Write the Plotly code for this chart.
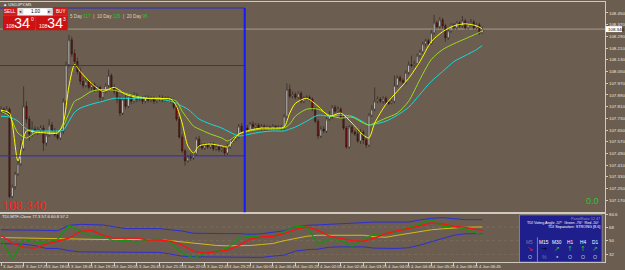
import plotly.graph_objects as go

W, H = 625, 270
FONT = "Liberation Sans"

# ---------------- data ----------------
bar_index = list(range(171))

opens = [107.779, 107.793, 107.772, 107.793, 107.196, 107.264, 107.352, 107.420, 107.522, 107.813,
         107.725, 107.623, 107.657, 107.637, 107.650, 107.664, 107.562, 107.616, 107.684, 107.644,
         107.616, 107.596, 107.644, 107.847, 108.098, 108.267, 108.172, 108.118, 108.050, 107.983,
         107.955, 107.983, 107.942, 107.962, 107.928, 107.942, 107.874, 107.915, 107.955, 108.023,
         107.942, 107.915, 107.861, 107.766, 107.861, 107.813, 107.881, 107.847, 107.888, 107.861,
         107.867, 107.847, 107.874, 107.854, 107.867, 107.847, 107.861, 107.874, 107.854, 107.867,
         107.861, 107.854, 107.806, 107.725, 107.603, 107.508, 107.440, 107.467, 107.461, 107.488,
         107.589, 107.542, 107.528, 107.549, 107.535, 107.555, 107.522, 107.535, 107.515, 107.528,
         107.494, 107.535, 107.583, 107.589, 107.603, 107.677, 107.644, 107.664, 107.650, 107.691,
         107.671, 107.684, 107.664, 107.677, 107.657, 107.671, 107.664, 107.677, 107.664, 107.671,
         107.664, 107.745, 107.928, 107.881, 107.894, 107.874, 107.901, 107.847, 107.867, 107.874,
         107.861, 107.793, 107.711, 107.610, 107.657, 107.644, 107.725, 107.752, 107.806, 107.779,
         107.793, 107.739, 107.664, 107.535, 107.671, 107.637, 107.623, 107.576, 107.637, 107.583,
         107.549, 107.752, 107.793, 107.847, 107.861, 107.847, 107.867, 107.840, 107.833, 107.847,
         107.955, 108.010, 107.989, 107.976, 108.044, 108.098, 108.091, 108.105, 108.159, 108.186,
         108.240, 108.261, 108.240, 108.315, 108.383, 108.356, 108.403, 108.362, 108.281, 108.328,
         108.369, 108.349, 108.383, 108.362, 108.396, 108.349, 108.376, 108.389, 108.349, 108.369,
         108.315]

highs = [107.813, 107.806, 107.813, 107.806, 107.278, 107.366, 107.440, 107.576, 107.949, 107.847,
         107.745, 107.711, 107.677, 107.671, 107.684, 107.684, 107.644, 107.725, 107.705, 107.664,
         107.644, 107.657, 107.867, 108.118, 108.301, 108.288, 108.200, 108.145, 108.078, 108.010,
         108.003, 107.996, 107.976, 107.976, 107.955, 107.955, 107.928, 107.969, 108.064, 108.037,
         107.962, 107.928, 107.881, 107.874, 107.894, 107.901, 107.901, 107.908, 107.901, 107.881,
         107.881, 107.888, 107.888, 107.881, 107.881, 107.874, 107.888, 107.888, 107.881, 107.881,
         107.874, 107.867, 107.820, 107.739, 107.623, 107.522, 107.481, 107.488, 107.501, 107.603,
         107.610, 107.562, 107.562, 107.562, 107.569, 107.569, 107.549, 107.549, 107.542, 107.542,
         107.555, 107.596, 107.603, 107.623, 107.691, 107.698, 107.684, 107.684, 107.705, 107.711,
         107.698, 107.698, 107.691, 107.691, 107.684, 107.684, 107.691, 107.684, 107.684, 107.684,
         107.759, 107.969, 107.962, 107.915, 107.908, 107.915, 107.915, 107.881, 107.888, 107.888,
         107.874, 107.806, 107.725, 107.677, 107.677, 107.739, 107.779, 107.820, 107.820, 107.813,
         107.806, 107.759, 107.677, 107.684, 107.684, 107.650, 107.650, 107.657, 107.650, 107.596,
         107.766, 107.820, 107.942, 107.881, 107.874, 107.881, 107.881, 107.854, 107.861, 108.023,
         108.023, 108.023, 108.003, 108.057, 108.118, 108.159, 108.125, 108.172, 108.200, 108.254,
         108.274, 108.274, 108.335, 108.437, 108.396, 108.423, 108.417, 108.376, 108.342, 108.383,
         108.383, 108.396, 108.396, 108.430, 108.410, 108.389, 108.410, 108.403, 108.383, 108.383,
         108.356]

lows = [107.766, 107.759, 107.759, 107.183, 107.183, 107.244, 107.339, 107.406, 107.508, 107.698,
        107.576, 107.603, 107.616, 107.616, 107.637, 107.508, 107.542, 107.603, 107.630, 107.603,
        107.583, 107.583, 107.623, 107.833, 108.078, 108.152, 108.098, 108.030, 107.962, 107.935,
        107.942, 107.928, 107.922, 107.908, 107.915, 107.847, 107.854, 107.901, 107.942, 107.928,
        107.894, 107.833, 107.745, 107.752, 107.793, 107.800, 107.827, 107.833, 107.840, 107.847,
        107.827, 107.833, 107.840, 107.840, 107.827, 107.833, 107.847, 107.840, 107.840, 107.847,
        107.833, 107.793, 107.711, 107.589, 107.494, 107.406, 107.427, 107.440, 107.447, 107.474,
        107.528, 107.515, 107.515, 107.522, 107.522, 107.508, 107.508, 107.501, 107.501, 107.474,
        107.481, 107.522, 107.562, 107.576, 107.589, 107.630, 107.630, 107.637, 107.637, 107.657,
        107.657, 107.650, 107.644, 107.644, 107.644, 107.650, 107.650, 107.650, 107.657, 107.650,
        107.650, 107.732, 107.867, 107.867, 107.861, 107.861, 107.833, 107.833, 107.854, 107.847,
        107.779, 107.698, 107.589, 107.596, 107.630, 107.630, 107.711, 107.725, 107.766, 107.766,
        107.725, 107.650, 107.522, 107.522, 107.623, 107.610, 107.562, 107.555, 107.555, 107.528,
        107.535, 107.739, 107.779, 107.833, 107.833, 107.827, 107.827, 107.820, 107.827, 107.833,
        107.942, 107.976, 107.962, 107.962, 108.030, 108.078, 108.078, 108.091, 108.145, 108.172,
        108.220, 108.227, 108.233, 108.301, 108.342, 108.342, 108.342, 108.254, 108.267, 108.315,
        108.335, 108.335, 108.349, 108.349, 108.335, 108.335, 108.362, 108.335, 108.335, 108.301,
        108.308]

closes = [107.793, 107.772, 107.793, 107.196, 107.264, 107.352, 107.420, 107.522, 107.813, 107.725,
          107.623, 107.657, 107.637, 107.650, 107.664, 107.562, 107.616, 107.684, 107.644, 107.616,
          107.596, 107.644, 107.847, 108.098, 108.267, 108.172, 108.118, 108.050, 107.983, 107.955,
          107.983, 107.942, 107.962, 107.928, 107.942, 107.874, 107.915, 107.955, 108.023, 107.942,
          107.915, 107.861, 107.766, 107.861, 107.813, 107.881, 107.847, 107.888, 107.861, 107.867,
          107.847, 107.874, 107.854, 107.867, 107.847, 107.861, 107.874, 107.854, 107.867, 107.861,
          107.854, 107.806, 107.725, 107.603, 107.508, 107.440, 107.467, 107.461, 107.488, 107.589,
          107.542, 107.528, 107.549, 107.535, 107.555, 107.522, 107.535, 107.515, 107.528, 107.494,
          107.535, 107.583, 107.589, 107.603, 107.677, 107.644, 107.664, 107.650, 107.691, 107.671,
          107.684, 107.664, 107.677, 107.657, 107.671, 107.664, 107.677, 107.664, 107.671, 107.664,
          107.745, 107.928, 107.881, 107.894, 107.874, 107.901, 107.847, 107.867, 107.874, 107.861,
          107.793, 107.711, 107.610, 107.657, 107.644, 107.725, 107.752, 107.806, 107.779, 107.793,
          107.739, 107.664, 107.535, 107.671, 107.637, 107.623, 107.576, 107.637, 107.583, 107.549,
          107.752, 107.793, 107.847, 107.861, 107.847, 107.867, 107.840, 107.833, 107.847, 107.955,
          108.010, 107.989, 107.976, 108.044, 108.098, 108.091, 108.105, 108.159, 108.186, 108.240,
          108.261, 108.240, 108.315, 108.383, 108.356, 108.403, 108.362, 108.281, 108.328, 108.369,
          108.349, 108.383, 108.362, 108.396, 108.349, 108.376, 108.389, 108.349, 108.369, 108.315,
          108.340]

ma_index = [0, 3, 6, 9, 12, 16, 20, 22, 24, 26, 28, 32, 36, 40, 44, 48, 52, 56, 60, 62,
            64, 66, 68, 70, 74, 78, 80, 84, 88, 92, 96, 100, 102, 104, 108, 112, 116, 120, 124, 128,
            130, 132, 136, 140, 144, 148, 152, 156, 160, 164, 168, 170]
ma_fast = [107.786, 107.766, 107.440, 107.644, 107.637, 107.630, 107.630, 107.698, 107.949, 108.098,
           108.050, 107.969, 107.915, 107.942, 107.894, 107.874, 107.867, 107.867, 107.861, 107.813,
           107.698, 107.542, 107.494, 107.542, 107.555, 107.542, 107.535, 107.623, 107.650, 107.664,
           107.664, 107.671, 107.766, 107.833, 107.867, 107.813, 107.745, 107.766, 107.698, 107.616,
           107.596, 107.698, 107.827, 107.915, 108.003, 108.118, 108.254, 108.322, 108.362, 108.376,
           108.362, 108.342]
ma_mid = [107.779, 107.745, 107.630, 107.596, 107.630, 107.637, 107.637, 107.677, 107.766, 107.847,
          107.867, 107.915, 107.928, 107.922, 107.901, 107.881, 107.867, 107.867, 107.861, 107.847,
          107.779, 107.725, 107.677, 107.657, 107.623, 107.596, 107.576, 107.623, 107.644, 107.657,
          107.657, 107.664, 107.691, 107.745, 107.793, 107.793, 107.752, 107.732, 107.739, 107.698,
          107.684, 107.698, 107.732, 107.766, 107.847, 107.996, 108.132, 108.200, 108.240, 108.274,
          108.308, 108.328]
ma_slow = [107.745, 107.739, 107.711, 107.657, 107.644, 107.644, 107.644, 107.650, 107.711, 107.772,
           107.800, 107.827, 107.847, 107.867, 107.867, 107.867, 107.867, 107.861, 107.847, 107.833,
           107.813, 107.793, 107.759, 107.725, 107.691, 107.664, 107.644, 107.610, 107.623, 107.637,
           107.644, 107.644, 107.657, 107.671, 107.711, 107.752, 107.745, 107.752, 107.745, 107.705,
           107.684, 107.691, 107.711, 107.752, 107.806, 107.894, 107.983, 108.050, 108.118, 108.159,
           108.200, 108.227]

tdi_index = [0, 4, 8, 12, 16, 20, 24, 28, 32, 36, 40, 44, 48, 52, 56, 60, 64, 68, 72, 76, 80, 84,
             88, 92, 96, 100, 104, 108, 112, 116, 120, 124, 128, 132, 136, 140, 144, 148, 152, 156,
             160, 164, 168, 170]
tdi_green = [52.0, 25.8, 52.0, 48.0, 48.0, 52.0, 70.3, 62.4, 55.9, 55.9,
             49.3, 50.7, 48.0, 50.7, 52.0, 48.0, 33.6, 27.1, 33.6, 36.3,
             40.2, 53.3, 56.5, 54.6, 55.2, 62.4, 69.0, 69.0, 45.4, 52.0,
             50.7, 42.8, 52.0, 58.5, 59.8, 62.4, 67.7, 71.6, 78.1, 69.0,
             69.0, 65.1, 59.8, 58.5]
tdi_red = [57.2, 46.7, 41.5, 40.2, 45.4, 49.3, 53.3, 62.4, 63.7, 57.2,
           53.3, 53.3, 53.3, 50.7, 50.7, 49.3, 44.1, 36.3, 33.6, 35.6,
           37.6, 43.5, 52.0, 55.2, 55.9, 59.2, 65.1, 68.3, 63.7, 55.9,
           52.6, 50.0, 49.3, 53.3, 59.8, 63.1, 65.7, 69.6, 73.6, 72.3,
           69.0, 67.7, 65.1, 63.7]
tdi_yellow = [54.2, 53.9, 53.5, 53.0, 52.6, 52.1, 51.7, 51.6, 51.6, 51.6,
              51.6, 51.6, 51.6, 51.6, 51.6, 50.0, 48.3, 46.3, 45.0, 43.8,
              43.2, 43.2, 43.7, 45.0, 46.3, 50.0, 53.3, 55.9, 57.2, 57.2,
              57.2, 57.2, 57.2, 55.2, 54.6, 57.2, 59.8, 62.4, 64.4, 65.7,
              67.0, 67.7, 68.1, 68.1]
tdi_upper = [64.4, 64.4, 64.1, 64.0, 63.7, 63.1, 70.3, 71.6, 71.2, 70.8,
             68.3, 66.0, 66.0, 66.0, 66.0, 64.4, 62.8, 59.8, 59.4, 59.4,
             59.4, 59.4, 58.5, 59.2, 61.1, 63.1, 68.3, 70.3, 70.9, 71.6,
             72.9, 73.6, 74.2, 74.6, 74.6, 74.6, 74.6, 77.5, 79.5, 80.4,
             78.8, 77.8, 77.8, 77.8]
tdi_lower = [46.3, 46.1, 45.4, 43.5, 39.8, 39.8, 36.9, 35.3, 35.3, 35.3,
             34.9, 34.6, 34.6, 34.6, 34.6, 32.3, 29.7, 28.8, 28.8, 28.8,
             28.4, 28.0, 28.0, 28.0, 29.7, 31.0, 36.3, 38.2, 38.9, 41.5,
             41.9, 41.9, 41.9, 40.2, 39.8, 39.8, 40.8, 44.1, 48.7, 53.3,
             57.2, 59.2, 59.4, 59.4]
tdi_levels = [32, 50, 68]

price_ticks = [108.450, 108.370, 108.290, 108.210, 108.130, 108.050, 107.970, 107.890, 107.810,
               107.730, 107.650, 107.570, 107.490, 107.410, 107.330, 107.250, 107.170]
tdi_ticks = [84.6, 68, 50, 32]
tdi_tick_text = ["84.6", "68", "50", "32"]

time_label_index = [0, 8, 16, 24, 32, 40, 48, 56, 64, 72, 80, 88, 96, 104, 112, 120, 128, 136,
                    144, 152, 160, 168]
time_labels = ["3 Jan 2019", "3 Jan 17:25", "3 Jan 18:05", "3 Jan 18:45", "3 Jan 19:25",
               "3 Jan 20:05", "3 Jan 20:45", "3 Jan 21:25", "3 Jan 22:05", "3 Jan 22:45",
               "3 Jan 23:25", "4 Jan 00:05", "4 Jan 00:45", "4 Jan 01:25", "4 Jan 02:05",
               "4 Jan 02:45", "4 Jan 03:25", "4 Jan 04:05", "4 Jan 04:45", "4 Jan 05:25",
               "4 Jan 06:05", "4 Jan 06:45"]

bid_price = 108.340
object_levels = [108.484, 108.091, 107.474]   # horizontal drawn objects
object_bar = 86.1                              # vertical drawn object (bar position)
daily_ranges = [("5 Day", "117"), ("10 Day", "126"), ("20 Day", "96")]
tfs = ["M5", "M15", "M30", "H1", "H4", "D1"]
tf_arrows = ["\u2198", "\u2192", "\u2197", "\u2191", "\u2191", "\u2197"]
tf_arrow_colors = ["#ff1a1a", "#050505", "#22c41e", "#22c41e", "#22c41e", "#22c41e"]
tf_marks = ["O", "%", "\u25cf", "O", "O", "O"]

# ---------------- style ----------------
BG = "#6b5d4f"
BORDER = "#cfc9c0"
AX_TXT = "#ece7df"
X_RANGE = [-0.352, 213.4]
Y_RANGE = [107.0876, 108.525]
Y2_RANGE = [21.86, 84.69]
XD = [0, 608 / W]


def py(y):
    return 1 - y / H


fig = go.Figure()

fig.add_trace(go.Candlestick(
    x=bar_index, open=opens, high=highs, low=lows, close=closes,
    increasing=dict(line=dict(color="#1a1512", width=0.5), fillcolor="#ffffff"),
    decreasing=dict(line=dict(color="#1a1512", width=0.5), fillcolor="#820d0d"),
    whiskerwidth=0, hoverinfo="skip", xaxis="x", yaxis="y"))

for vals, col in [(ma_slow, "#14dcdc"), (ma_mid, "#9ade1e"), (ma_fast, "#ffff00")]:
    fig.add_trace(go.Scatter(x=ma_index, y=vals, mode="lines",
                             line=dict(color=col, width=1.0, shape="spline", smoothing=0.7),
                             hoverinfo="skip", xaxis="x", yaxis="y"))

for vals, col, w in [(tdi_upper, "#2f2fd2", 1.0), (tdi_lower, "#2f2fd2", 1.0),
                     (tdi_yellow, "#d2bc1c", 1.0), (tdi_green, "#0c9a0c", 1.2),
                     (tdi_red, "#ff1010", 1.3)]:
    fig.add_trace(go.Scatter(x=tdi_index, y=vals, mode="lines",
                             line=dict(color=col, width=w),
                             hoverinfo="skip", xaxis="x2", yaxis="y2"))

shapes = []
# bid line
shapes.append(dict(type="line", xref="x", yref="y", x0=X_RANGE[0], x1=X_RANGE[1],
                   y0=bid_price, y1=bid_price, line=dict(color="#a59c90", width=1), layer="below"))
# drawn objects
for lv in object_levels:
    shapes.append(dict(type="line", xref="x", yref="y", x0=X_RANGE[0], x1=object_bar,
                       y0=lv, y1=lv, line=dict(color="#2c2cc4", width=1), layer="above"))
shapes.append(dict(type="line", xref="x", yref="y", x0=object_bar, x1=object_bar,
                   y0=Y_RANGE[0], y1=object_levels[0], line=dict(color="#1818ff", width=2),
                   layer="above"))
# TDI levels
for lv in tdi_levels:
    shapes.append(dict(type="line", xref="x2", yref="y2", x0=X_RANGE[0], x1=X_RANGE[1],
                       y0=lv, y1=lv, line=dict(color="#857767", width=0.6, dash="dot"),
                       layer="below"))


def rect(x0, y0, x1, y1, fill, line=None, lw=0):
    shapes.append(dict(type="rect", xref="paper", yref="paper", x0=x0 / W, x1=x1 / W,
                       y0=py(y1), y1=py(y0), fillcolor=fill,
                       line=dict(color=line or fill, width=lw), layer="above"))


def vline(x, y0, y1, col, w=1):
    shapes.append(dict(type="line", xref="paper", yref="paper", x0=x / W, x1=x / W,
                       y0=py(y1), y1=py(y0), line=dict(color=col, width=w), layer="above"))


annotations = []


def text(x, y, s, size, color, xanchor="left", family=FONT):
    annotations.append(dict(x=x / W, y=py(y), xref="paper", yref="paper", text=s,
                            showarrow=False, xanchor=xanchor, yanchor="middle",
                            font=dict(size=size, color=color, family=family), borderpad=0))


# one-click trading panel
rect(3, 6, 17, 13.5, "#cf1c1c")
rect(17.5, 6, 53, 13.5, "#ffffff", "#9a9a9a", 0.5)
rect(18.5, 7, 23.5, 12.5, "#d6d6d6")
rect(47.5, 7, 52.5, 12.5, "#d6d6d6")
rect(53.5, 6, 68, 13.5, "#cf1c1c")
rect(3, 14, 35.2, 28.5, "#cc1212")
rect(35.8, 14, 68, 28.5, "#cc1212")
text(10, 9.9, "SELL", 4.6, "#ffffff", "center")
text(21, 9.7, "\u25c2", 4.5, "#303030", "center", "DejaVu Sans")
text(35.3, 9.9, "1.00", 4.6, "#000000", "center")
text(50, 9.7, "\u25b8", 4.5, "#303030", "center", "DejaVu Sans")
text(60.8, 9.9, "BUY", 4.6, "#ffffff", "center")
for bx, sup in [(3, "0"), (35.8, "3")]:
    text(bx + 2.5, 24, "108", 5, "#ffffff")
    text(bx + 10.5, 21.6, "34", 14.5, "#ffffff")
    text(bx + 27, 17, sup, 5, "#ffffff")

# chart title and daily range legend
text(2, 2.3, "\u25b2 USDJPY,M5", 4.2, "#f2f2f2")
legend_parts = []
for name, val in daily_ranges:
    legend_parts.append(f"{name} <span style='color:#1ec81e'>{val}</span>")
text(69.5, 14.5, "  |  ".join(legend_parts), 4.6, "#d8d2ca")

# big bid + 0.0
text(1, 205.3, f"{bid_price:.3f}", 12.2, "#ff1e1e")
text(603, 200, "0.0", 9, "#2ec62e", "right")

# bid label on axis
rect(608.6, 24.3, 625, 30.3, "#ffffff")
text(610, 27.3, f"{bid_price:.3f}", 4.4, "#000000")

# indicator title
text(1.5, 216.6, "TDI-MTF-Clone 77.3 57.6 60.8 57.2", 4.2, "#efefef")

# TDI dashboard panel
rect(522, 214.5, 605, 262, "#1e1f8c", "#a9a9cc", 0.6)
text(603.5, 218.3, "PanelRatio 12.47", 3.8, "#9898b8", "right")
text(603.5, 222.6, "TDI Voting Angle -57\u00b0  Green -76\u00b0  Red -50\u00b0", 3.7, "#ffffff", "right")
text(603.5, 226.9, "TDI Separation: STRONG [8.6]", 3.8, "#ffffff", "right")
vline(540, 237, 262, "#7d7db0", 1)
col_x = [532.5, 547, 560, 573, 585.5, 597.5]
for cx, tf, ar, ac, mk in zip(col_x, tfs, tf_arrows, tf_arrow_colors, tf_marks):
    text(cx, 242.5, tf, 4.8, "#7a7aa6" if tf == "M5" else "#ffffff", "center")
    text(cx, 249.3, ar, 7, ac, "center", "DejaVu Sans")
    text(cx, 256.6, mk, 5.2 if mk != "\u25cf" else 4, "#7474a8" if mk == "%" else "#c4c4d6",
         "center")

# time labels (left aligned at each tick, MT4 style)
for idx, lab in zip(time_label_index, time_labels):
    annotations.append(dict(x=idx + 0.35, y=py(266.2), xref="x2", yref="paper", text=lab,
                            showarrow=False, xanchor="left", yanchor="middle", borderpad=0,
                            font=dict(size=4.2, color=AX_TXT, family=FONT)))

fig.update_layout(
    width=W, height=H, autosize=False,
    margin=dict(l=0, r=0, t=0, b=0, pad=0),
    paper_bgcolor=BG, plot_bgcolor=BG,
    showlegend=False, hovermode=False,
    font=dict(family=FONT, color=AX_TXT),
    shapes=shapes, annotations=annotations,
    xaxis=dict(domain=XD, range=X_RANGE, anchor="y", showticklabels=False, showgrid=False,
               zeroline=False, showline=True, mirror=True, linecolor=BORDER, linewidth=1,
               rangeslider=dict(visible=False), fixedrange=True),
    yaxis=dict(domain=[py(212), 1], range=Y_RANGE, anchor="x", side="right",
               tickvals=price_ticks, ticktext=[f"{v:.3f}" for v in price_ticks],
               ticks="outside", ticklen=2, tickcolor=BORDER, tickwidth=1,
               tickfont=dict(size=4.4, color=AX_TXT, family=FONT),
               showgrid=False, zeroline=False, showline=True, linecolor=BORDER, linewidth=1,
               fixedrange=True),
    xaxis2=dict(domain=XD, range=X_RANGE, anchor="y2", showticklabels=False, showgrid=False,
                zeroline=False, showline=True, mirror=True, linecolor=BORDER, linewidth=1,
                tickvals=time_label_index, ticks="outside", ticklen=3, tickcolor=BORDER,
                rangeslider=dict(visible=False), fixedrange=True),
    yaxis2=dict(domain=[py(262), py(214)], range=Y2_RANGE, anchor="x2", side="right",
                tickvals=tdi_ticks, ticktext=tdi_tick_text,
                ticks="outside", ticklen=2, tickcolor=BORDER,
                tickfont=dict(size=4.4, color=AX_TXT, family=FONT),
                showgrid=False, zeroline=False, showline=True, linecolor=BORDER, linewidth=1,
                fixedrange=True),
)

fig.write_html("out.html", config={"displayModeBar": False, "staticPlot": True})
